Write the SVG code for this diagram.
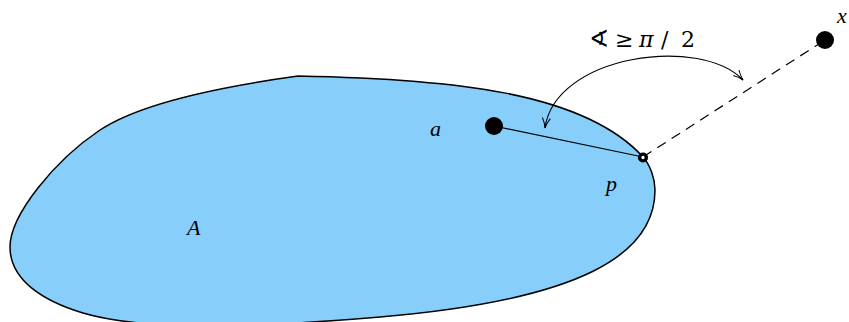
<svg xmlns="http://www.w3.org/2000/svg" width="849" height="322" viewBox="0 0 849 322">
<style>
.lbl{font-family:"Liberation Serif","DejaVu Serif",serif;font-style:italic;font-size:22px;fill:#000}
.math{font-family:"DejaVu Serif","Liberation Serif",serif;font-size:22px;fill:#000}
.ln{stroke:#000;stroke-width:1.2;fill:none}
</style>
<defs>
<marker id="arr" viewBox="0 0 12 12" refX="11" refY="6" markerWidth="12" markerHeight="12" markerUnits="userSpaceOnUse" orient="auto-start-reverse">
<path d="M1,2 Q6,5 11,6 Q6,7 1,10" fill="none" stroke="#000" stroke-width="1"/>
</marker>
</defs>
<rect width="849" height="322" fill="#fff"/>
<g id="A">
<path d="M298,76 C448,79 583,91 643,157 C650,165 655,178 655,190 C655,255 580,300 380,317 C250,328 143,331 83,313 C43,301 10,280 10,247 C10,215 55,160 100,130 C145,100 240,84 298,76 Z" fill="#87cefa" stroke="#000" stroke-width="1.5"/>
<text class="lbl" x="187" y="235">A</text>
</g>
<g id="connectors">
<line class="ln" x1="494" y1="126" x2="643" y2="157"/>
<line class="ln" x1="643" y1="157" x2="825" y2="40" stroke-dasharray="10,7"/>
<path class="ln" d="M545,128 C555,55 700,35 743,80" marker-start="url(#arr)" marker-end="url(#arr)"/>
</g>
<g id="a">
<circle cx="494" cy="126" r="9" fill="#000"/>
<text class="lbl" x="430" y="136">a</text>
</g>
<g id="p">
<circle cx="643" cy="157.5" r="3.4" fill="#fff" stroke="#000" stroke-width="3.4"/>
<text class="lbl" x="606" y="191">p</text>
</g>
<g id="x">
<circle cx="825" cy="40" r="9" fill="#000"/>
<text class="lbl" x="837" y="23">x</text>
</g>
<g id="angle">
<text class="math" y="47"><tspan x="589" font-family="DejaVu Sans, sans-serif" font-size="24">∢</tspan><tspan x="615">≥</tspan><tspan x="639" font-style="italic">π</tspan><tspan x="661">/</tspan><tspan x="681">2</tspan></text>
</g>
</svg>
